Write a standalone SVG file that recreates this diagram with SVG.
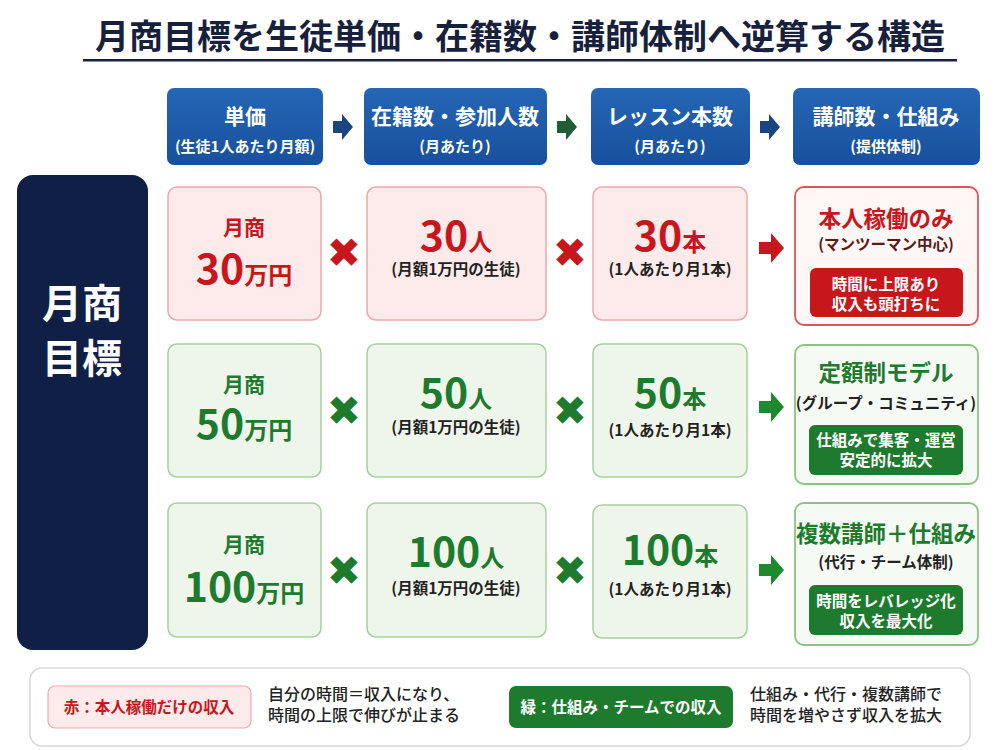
<svg xmlns="http://www.w3.org/2000/svg" width="1000" height="750" viewBox="0 0 1000 750">
<defs>
<linearGradient id="hb" x1="0" y1="0" x2="0" y2="1"><stop offset="0" stop-color="#2566b5"/><stop offset="1" stop-color="#18509b"/></linearGradient>
<style>
text{font-family:"Noto Sans CJK JP","Noto Sans",sans-serif;font-weight:700;text-anchor:middle}
.hd{fill:url(#hb)}
.ht{fill:#fff;font-size:21px}
.hs{fill:#fff;font-size:15px}
.rb{fill:#fdeaeb;stroke:#eba9ab;stroke-width:1.5}
.gb{fill:#eef6eb;stroke:#a9cfa1;stroke-width:1.5}
.rd{fill:#fff6f6;stroke:#d9575c;stroke-width:1.8}
.gd{fill:#f6faf4;stroke:#8cc283;stroke-width:1.8}
.r{fill:#c8161d}
.g{fill:#1e7b2e}
.sub{fill:#222;font-size:15.5px}
.lbl{font-size:21px}
.big{font-size:41px}
.unit{font-size:24px}
.ttl{font-size:22.5px}
.w{fill:#fff;font-size:15.5px}
.x{font-family:"DejaVu Sans",sans-serif;font-size:41px;font-weight:700}
.ft{fill:#222;font-size:16px;text-anchor:start;font-weight:500}
</style>
</defs>
<rect width="1000" height="750" fill="#ffffff"/>
<g id="title">
<text x="520" y="49" font-size="34" fill="#17213e">月商目標を生徒単価・在籍数・講師体制へ逆算する構造</text>
<rect x="83" y="59" width="874" height="2.5" fill="#17213e"/>
</g>
<g id="h1"><rect class="hd" x="167" y="88" width="156" height="77" rx="7"/><text class="ht" x="245" y="124">単価</text><text class="hs" x="245" y="152">(生徒1人あたり月額)</text></g>
<g id="h2"><rect class="hd" x="364" y="88" width="183" height="77" rx="7"/><text class="ht" x="455" y="124">在籍数・参加人数</text><text class="hs" x="455" y="152">(月あたり)</text></g>
<g id="h3"><rect class="hd" x="591" y="88" width="159" height="77" rx="7"/><text class="ht" x="670" y="124">レッスン本数</text><text class="hs" x="670" y="152">(月あたり)</text></g>
<g id="h4"><rect class="hd" x="793" y="88" width="187" height="77" rx="7"/><text class="ht" x="886" y="124">講師数・仕組み</text><text class="hs" x="886" y="152">(提供体制)</text></g>
<g id="goal"><rect x="17" y="175" width="131" height="475" rx="16" fill="#0f1f45"/><text x="82" y="318" font-size="40" fill="#fff">月商</text><text x="82" y="373" font-size="40" fill="#fff">目標</text></g>

<g id="r1a"><rect class="rb" x="168" y="187" width="153" height="133" rx="9"/><text class="r lbl" x="244" y="235">月商</text><text class="r" x="244" y="284"><tspan class="big">30</tspan><tspan class="unit">万円</tspan></text></g>
<g id="r1b"><rect class="rb" x="367" y="187" width="179" height="133" rx="9"/><text class="r" x="456" y="251"><tspan class="big">30</tspan><tspan class="unit">人</tspan></text><text class="sub" x="456" y="275">(月額1万円の生徒)</text></g>
<g id="r1c"><rect class="rb" x="593" y="187" width="154" height="133" rx="9"/><text class="r" x="670" y="251"><tspan class="big">30</tspan><tspan class="unit">本</tspan></text><text class="sub" x="670" y="275">(1人あたり月1本)</text></g>
<g id="r1d"><rect class="rd" x="795" y="187" width="183" height="138" rx="9"/><text class="r ttl" x="886" y="227">本人稼働のみ</text><text x="886" y="250" font-size="15.5" fill="#5a1a1a">(マンツーマン中心)</text><rect x="810" y="268" width="153" height="49" rx="6" fill="#c8161d"/><text class="w" x="886" y="290">時間に上限あり</text><text class="w" x="886" y="310">収入も頭打ちに</text></g>

<g id="r2a"><rect class="gb" x="168" y="344" width="153" height="133" rx="9"/><text class="g lbl" x="244" y="392">月商</text><text class="g" x="244" y="439"><tspan class="big">50</tspan><tspan class="unit">万円</tspan></text></g>
<g id="r2b"><rect class="gb" x="367" y="344" width="179" height="133" rx="9"/><text class="g" x="456" y="408"><tspan class="big">50</tspan><tspan class="unit">人</tspan></text><text class="sub" x="456" y="433">(月額1万円の生徒)</text></g>
<g id="r2c"><rect class="gb" x="593" y="344" width="154" height="133" rx="9"/><text class="g" x="670" y="408"><tspan class="big">50</tspan><tspan class="unit">本</tspan></text><text class="sub" x="670" y="436">(1人あたり月1本)</text></g>
<g id="r2d"><rect class="gd" x="795" y="345" width="183" height="139" rx="9"/><text class="g ttl" x="886" y="381">定額制モデル</text><text class="sub" x="886" y="409">(グループ・コミュニティ)</text><rect x="809" y="425" width="154" height="50" rx="6" fill="#1e7b2e"/><text class="w" x="886" y="446">仕組みで集客・運営</text><text class="w" x="886" y="466">安定的に拡大</text></g>

<g id="r3a"><rect class="gb" x="168" y="503" width="153" height="134" rx="9"/><text class="g lbl" x="244" y="552">月商</text><text class="g" x="244" y="602"><tspan class="big">100</tspan><tspan class="unit">万円</tspan></text></g>
<g id="r3b"><rect class="gb" x="367" y="503" width="179" height="134" rx="9"/><text class="g" x="456" y="567"><tspan class="big">100</tspan><tspan class="unit">人</tspan></text><text class="sub" x="456" y="594">(月額1万円の生徒)</text></g>
<g id="r3c"><rect class="gb" x="593" y="505" width="154" height="133" rx="9"/><text class="g" x="670" y="565"><tspan class="big">100</tspan><tspan class="unit">本</tspan></text><text class="sub" x="670" y="595">(1人あたり月1本)</text></g>
<g id="r3d"><rect class="gd" x="795" y="503" width="183" height="142" rx="9"/><text class="g ttl" x="886" y="542">複数講師＋仕組み</text><text class="sub" x="886" y="568">(代行・チーム体制)</text><rect x="809" y="585" width="154" height="50" rx="6" fill="#1e7b2e"/><text class="w" x="886" y="607">時間をレバレッジ化</text><text class="w" x="886" y="627">収入を最大化</text></g>

<g id="connectors">
<path d="M333,121 h9 v-7 l11,13 l-11,13 v-7 h-9 z" fill="#1b4580"/>
<path d="M557,121 h9 v-7 l11,13 l-11,13 v-7 h-9 z" fill="#1f5e35"/>
<path d="M760,121 h9 v-7 l11,13 l-11,13 v-7 h-9 z" fill="#1b4580"/>
<text class="r x" x="344" y="267">✖</text>
<text class="r x" x="570" y="267">✖</text>
<path d="M759,242 h12 v-9 l13,15 l-13,15 v-9 h-12 z" fill="#c8161d"/>
<text class="g x" x="344" y="425">✖</text>
<text class="g x" x="570" y="425">✖</text>
<path d="M759,401 h12 v-9 l13,15 l-13,15 v-9 h-12 z" fill="#1e8a30"/>
<text class="g x" x="344" y="585">✖</text>
<text class="g x" x="570" y="585">✖</text>
<path d="M759,564 h12 v-9 l13,15 l-13,15 v-9 h-12 z" fill="#1e8a30"/>
</g>

<g id="legend">
<rect x="30" y="668" width="940" height="78" rx="12" fill="#fff" stroke="#d6d6d6" stroke-width="1.5"/>
<rect x="48" y="686" width="203" height="42" rx="7" fill="#fdeaeb" stroke="#eba9ab" stroke-width="1.2"/>
<text x="149" y="713" font-size="15.5" fill="#c8161d">赤：本人稼働だけの収入</text>
<text class="ft" x="268" y="700">自分の時間＝収入になり、</text>
<text class="ft" x="268" y="721">時間の上限で伸びが止まる</text>
<rect x="509" y="686" width="224" height="42" rx="7" fill="#1e7b2e"/>
<text x="621" y="713" font-size="15.5" fill="#fff">緑：仕組み・チームでの収入</text>
<text class="ft" x="750" y="700">仕組み・代行・複数講師で</text>
<text class="ft" x="750" y="721">時間を増やさず収入を拡大</text>
</g>
</svg>
